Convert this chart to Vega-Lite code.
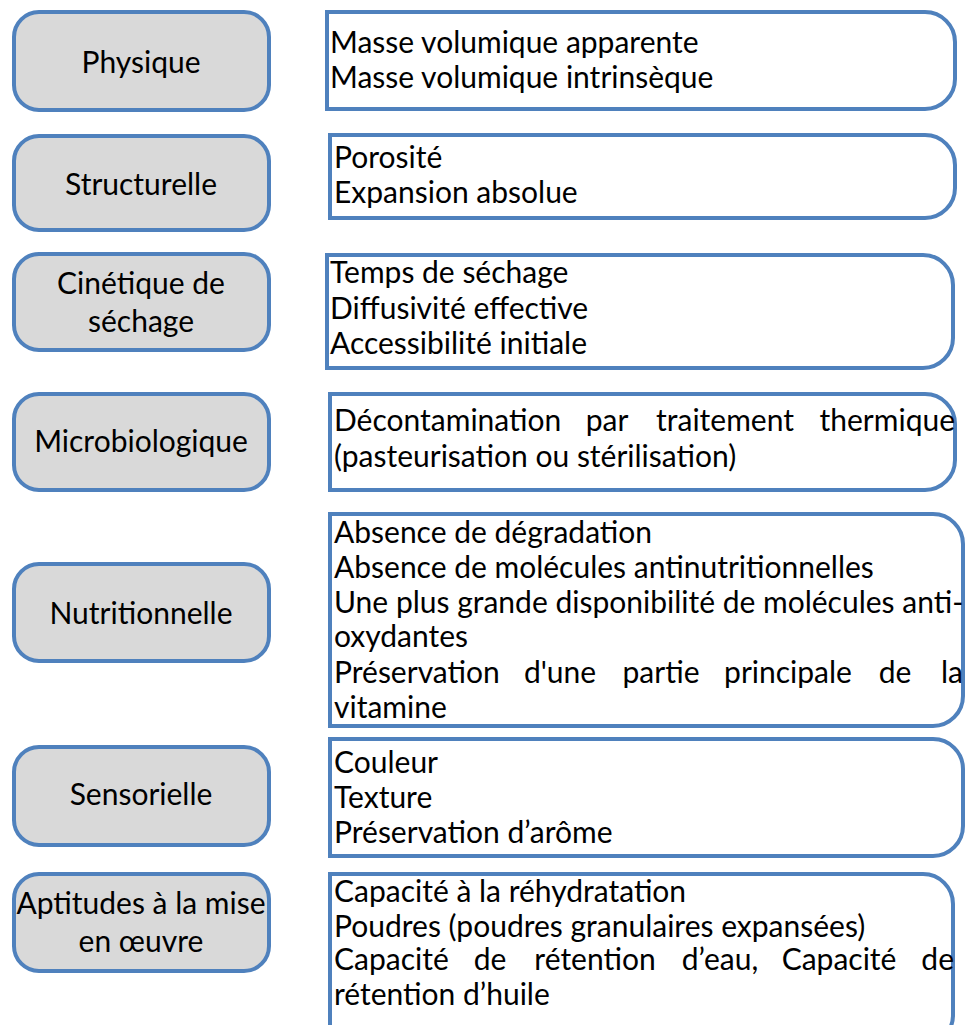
{
  "$schema": "https://vega.github.io/schema/vega-lite/v6.json",
  "width": 967,
  "height": 1025,
  "autosize": {"type": "fit", "contains": "padding"},
  "padding": 0,
  "background": "white",
  "config": {"view": {"stroke": null}},
  "datasets": {
    "cats": [
      {"label": "Physique", "left": 14, "right": 269, "top": 12, "bottom": 110},
      {"label": "Structurelle", "left": 14, "right": 269, "top": 136, "bottom": 230},
      {"label": "Cinétique de séchage", "left": 14, "right": 269, "top": 254, "bottom": 350},
      {"label": "Microbiologique", "left": 14, "right": 269, "top": 394, "bottom": 490},
      {"label": "Nutritionnelle", "left": 14, "right": 269, "top": 564, "bottom": 661},
      {"label": "Sensorielle", "left": 14, "right": 269, "top": 747, "bottom": 845},
      {"label": "Aptitudes à la mise en œuvre", "left": 14, "right": 269, "top": 874, "bottom": 971}
    ],
    "details": [
      {"label": "Physique", "left": 327, "right": 955, "top": 12, "bottom": 109},
      {"label": "Structurelle", "left": 330, "right": 955, "top": 135, "bottom": 218},
      {"label": "Cinétique de séchage", "left": 327, "right": 953, "top": 255, "bottom": 368},
      {"label": "Microbiologique", "left": 330, "right": 955, "top": 394, "bottom": 490},
      {"label": "Nutritionnelle", "left": 330, "right": 963, "top": 514, "bottom": 726},
      {"label": "Sensorielle", "left": 330, "right": 963, "top": 739, "bottom": 856},
      {"label": "Aptitudes à la mise en œuvre", "left": 330, "right": 953, "top": 874, "bottom": 1045}
    ],
    "catText": [
      {"text": "Physique", "x": 141, "y": 72.7},
      {"text": "Structurelle", "x": 141, "y": 195},
      {"text": "Cinétique de", "x": 141, "y": 294},
      {"text": "séchage", "x": 141, "y": 331.7},
      {"text": "Microbiologique", "x": 141, "y": 451.7},
      {"text": "Nutritionnelle", "x": 141, "y": 624},
      {"text": "Sensorielle", "x": 141, "y": 805},
      {"text": "Aptitudes à la mise", "x": 141, "y": 914},
      {"text": "en œuvre", "x": 141, "y": 951.7}
    ],
    "lines": [
      {"text": "Masse volumique apparente", "x": 330, "y": 53.3},
      {"text": "Masse volumique intrinsèque", "x": 330, "y": 88.3},
      {"text": "Porosité", "x": 334, "y": 168.3},
      {"text": "Expansion absolue", "x": 334, "y": 203.3},
      {"text": "Temps de séchage", "x": 330, "y": 283.3},
      {"text": "Diffusivité effective", "x": 330, "y": 319.3},
      {"text": "Accessibilité initiale", "x": 330, "y": 354},
      {"text": "Décontamination", "x": 334, "y": 430.7},
      {"text": "(pasteurisation ou stérilisation)", "x": 334, "y": 466.7},
      {"text": "Absence de dégradation", "x": 334, "y": 543.3},
      {"text": "Absence de molécules antinutritionnelles", "x": 334, "y": 578.3},
      {"text": "Une plus grande disponibilité de molécules anti-", "x": 334, "y": 613.3},
      {"text": "oxydantes", "x": 334, "y": 646.7},
      {"text": "Préservation", "x": 334, "y": 683.3},
      {"text": "vitamine", "x": 334, "y": 718.3},
      {"text": "Couleur", "x": 334, "y": 773.3},
      {"text": "Texture", "x": 334, "y": 808.3},
      {"text": "Préservation d’arôme", "x": 334, "y": 843.3},
      {"text": "Capacité à la réhydratation", "x": 334, "y": 901.7},
      {"text": "Poudres (poudres granulaires expansées)", "x": 334, "y": 936.7},
      {"text": "Capacité", "x": 334, "y": 970},
      {"text": "rétention d’huile", "x": 334, "y": 1005}
    ],
    "midWords": [
      {"text": "par", "x": 607, "y": 430.7},
      {"text": "traitement", "x": 725, "y": 430.7},
      {"text": "d'une", "x": 560, "y": 683.3},
      {"text": "partie", "x": 661, "y": 683.3},
      {"text": "principale", "x": 788, "y": 683.3},
      {"text": "de", "x": 895, "y": 683.3},
      {"text": "de", "x": 490, "y": 970},
      {"text": "rétention", "x": 595, "y": 970},
      {"text": "d’eau,", "x": 720, "y": 970},
      {"text": "Capacité", "x": 839, "y": 970}
    ],
    "endWords": [
      {"text": "thermique", "x": 955, "y": 430.7},
      {"text": "la", "x": 963, "y": 683.3},
      {"text": "de", "x": 954, "y": 970}
    ]
  },
  "layer": [
    {
      "data": {"name": "details"},
      "mark": {"type": "rect", "fill": "white", "stroke": "#4F81BD", "strokeWidth": 4, "cornerRadiusTopRight": 30, "cornerRadiusBottomRight": 30, "clip": true},
      "encoding": {
        "x": {"field": "left", "type": "quantitative", "scale": {"domain": [0, 967], "nice": false, "zero": false}, "axis": null},
        "x2": {"field": "right"},
        "y": {"field": "top", "type": "quantitative", "scale": {"domain": [0, 1025], "nice": false, "zero": false, "reverse": true}, "axis": null},
        "y2": {"field": "bottom"}
      }
    },
    {
      "data": {"name": "cats"},
      "mark": {"type": "rect", "fill": "#D9D9D9", "stroke": "#4F81BD", "strokeWidth": 4, "cornerRadius": 25},
      "encoding": {
        "x": {"field": "left", "type": "quantitative"},
        "x2": {"field": "right"},
        "y": {"field": "top", "type": "quantitative"},
        "y2": {"field": "bottom"}
      }
    },
    {
      "data": {"name": "catText"},
      "mark": {"type": "text", "font": "Lato", "fontSize": 30, "align": "center", "baseline": "alphabetic", "color": "black"},
      "encoding": {
        "x": {"field": "x", "type": "quantitative"},
        "y": {"field": "y", "type": "quantitative"},
        "text": {"field": "text"}
      }
    },
    {
      "data": {"name": "lines"},
      "mark": {"type": "text", "font": "Lato", "fontSize": 30, "align": "left", "baseline": "alphabetic", "color": "black"},
      "encoding": {
        "x": {"field": "x", "type": "quantitative"},
        "y": {"field": "y", "type": "quantitative"},
        "text": {"field": "text"}
      }
    },
    {
      "data": {"name": "midWords"},
      "mark": {"type": "text", "font": "Lato", "fontSize": 30, "align": "center", "baseline": "alphabetic", "color": "black"},
      "encoding": {
        "x": {"field": "x", "type": "quantitative"},
        "y": {"field": "y", "type": "quantitative"},
        "text": {"field": "text"}
      }
    },
    {
      "data": {"name": "endWords"},
      "mark": {"type": "text", "font": "Lato", "fontSize": 30, "align": "right", "baseline": "alphabetic", "color": "black"},
      "encoding": {
        "x": {"field": "x", "type": "quantitative"},
        "y": {"field": "y", "type": "quantitative"},
        "text": {"field": "text"}
      }
    }
  ]
}
